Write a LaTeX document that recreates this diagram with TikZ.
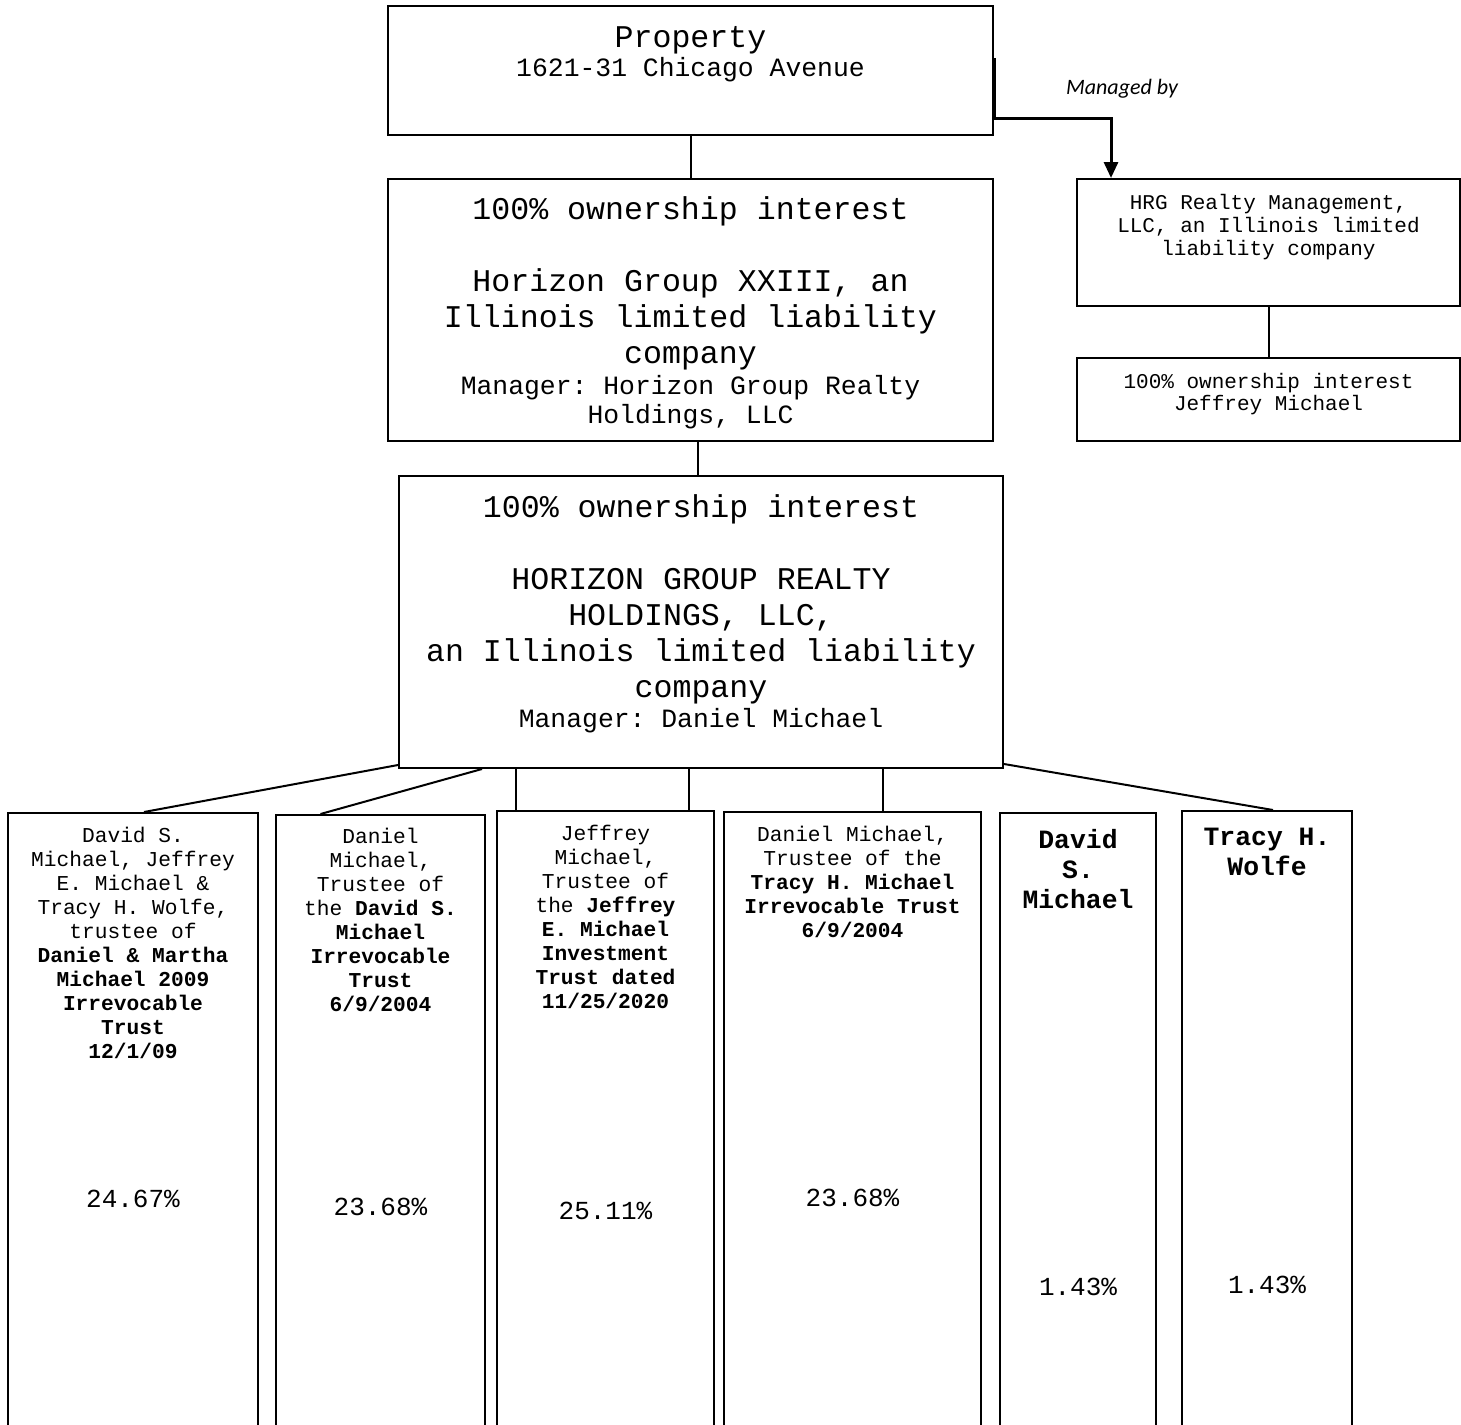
\documentclass[tikz,border=0pt]{standalone}
\usepackage{fontspec}
\setmainfont{Liberation Mono}
\newfontfamily\notefont{Carlito}
\frenchspacing
\usetikzlibrary{positioning, calc, arrows.meta}
\tikzstyle{entity} = [rectangle, draw=black, line width=1pt, inner sep=0pt, anchor=north west]
\tikzstyle{txt} = [align=center, anchor=north, inner sep=0pt]
\tikzstyle{txtBig} = [txt, font=\fontsize{15.8}{18}\selectfont]
\tikzstyle{txtMid} = [txt, font=\fontsize{13.2}{14.5}\selectfont]
\tikzstyle{txtSmall} = [txt, font=\fontsize{10.6}{12}\selectfont]
\tikzstyle{txtName} = [txt, font=\fontsize{13.2}{15}\selectfont\bfseries]
\tikzstyle{pct} = [txt, font=\fontsize{13}{15}\selectfont]
\tikzstyle{link} = [line width=1pt]

\begin{document}
\begin{tikzpicture}[x=0.5pt, y=-0.5pt]
    \useasboundingbox (0,0) rectangle (1461,1424);
    \clip (0,0) rectangle (1461,1424);

    % top part
    \node[entity, minimum width=302.5pt, minimum height=64.5pt] (prop) at (387,5) {};
    \node[txtBig] (propName) at ([yshift=-10.3pt]prop.north) {Property};
    \node[txtMid] (propAddr) at ([yshift=-26pt]prop.north) {1621-31 Chicago Avenue};

    \node[entity, minimum width=302.5pt, minimum height=131pt] (hg23) at (387,178) {};
    \node[txtBig] (hg23Name) at ([yshift=-9.3pt]hg23.north) {100\% ownership interest\\[18pt]Horizon Group XXIII, an\\Illinois limited liability\\company};
    \node[txtMid] (hg23Mgr) at ([yshift=-98.7pt]hg23.north) {Manager: Horizon Group Realty\\Holdings, LLC};

    \node[entity, minimum width=302pt, minimum height=146pt] (hgrh) at (398,475) {};
    \node[txtBig] (hgrhName) at ([yshift=-9.8pt]hgrh.north) {100\% ownership interest\\[18pt]HORIZON GROUP REALTY\\HOLDINGS, LLC,\\an Illinois limited liability\\company};
    \node[txtMid] (hgrhMgr) at ([yshift=-116.7pt]hgrh.north) {Manager: Daniel Michael};

    \node[entity, minimum width=191.5pt, minimum height=63.5pt] (hrg) at (1076,178) {};
    \node[txt, font=\fontsize{10.5}{11.5}\selectfont] (hrgName) at ([yshift=-8pt]hrg.north) {HRG Realty Management,\\LLC, an Illinois limited\\liability company};
    \node[entity, minimum width=191.5pt, minimum height=41.5pt] (jm) at (1076,357) {};
    \node[txt, font=\fontsize{10.5}{11}\selectfont] (jmName) at ([yshift=-8pt]jm.north) {100\% ownership interest\\Jeffrey Michael};

    % members
    \node[entity, minimum width=125pt, minimum height=314pt] (trustDM) at (7,812) {};
    \node[txtSmall] (trustDMName) at ([yshift=-7.5pt]trustDM.north) {David S.\\Michael, Jeffrey\\E. Michael \&\\Tracy H. Wolfe,\\trustee of\\\textbf{Daniel \& Martha}\\\textbf{Michael 2009}\\\textbf{Irrevocable}\\\textbf{Trust}\\\textbf{12/1/09}};
    \node[pct] (trustDMPct) at ([yshift=-188.7pt]trustDM.north) {24.67\%};

    \node[entity, minimum width=104.5pt, minimum height=314pt] (trustDSM) at (275,814) {};
    \node[txtSmall] (trustDSMName) at ([yshift=-7pt]trustDSM.north) {Daniel\\Michael,\\Trustee of\\the \textbf{David S.}\\\textbf{Michael}\\\textbf{Irrevocable}\\\textbf{Trust}\\\textbf{6/9/2004}};
    \node[pct] (trustDSMPct) at ([yshift=-191.7pt]trustDSM.north) {23.68\%};

    \node[entity, minimum width=108.5pt, minimum height=314pt] (trustJEM) at (496,810) {};
    \node[txtSmall] (trustJEMName) at ([yshift=-7.5pt]trustJEM.north) {Jeffrey\\Michael,\\Trustee of\\the \textbf{Jeffrey}\\\textbf{E. Michael}\\\textbf{Investment}\\\textbf{Trust dated}\\\textbf{11/25/2020}};
    \node[pct] (trustJEMPct) at ([yshift=-195.7pt]trustJEM.north) {25.11\%};

    \node[entity, minimum width=128.5pt, minimum height=314pt] (trustTHM) at (723,811) {};
    \node[txtSmall] (trustTHMName) at ([yshift=-7.5pt]trustTHM.north) {Daniel Michael,\\Trustee of the\\\textbf{Tracy H. Michael}\\\textbf{Irrevocable Trust}\\\textbf{6/9/2004}};
    \node[pct] (trustTHMPct) at ([yshift=-188.7pt]trustTHM.north) {23.68\%};

    \node[entity, minimum width=78pt, minimum height=314pt] (dsm) at (999,812) {};
    \node[txtName] (dsmName) at ([yshift=-8.6pt]dsm.north) {David\\S.\\Michael};
    \node[pct] (dsmPct) at ([yshift=-233pt]dsm.north) {1.43\%};

    \node[entity, minimum width=85pt, minimum height=314pt] (thw) at (1181,810) {};
    \node[txtName] (thwName) at ([yshift=-8.6pt]thw.north) {Tracy H.\\Wolfe};
    \node[pct] (thwPct) at ([yshift=-232.7pt]thw.north) {1.43\%};

    % managed by
    \coordinate (mgdTurn) at (1111,118);
    \node[font=\fontsize{11}{13}\notefont\itshape, inner sep=0pt] (mgdLabel) at (1122,89) {Managed by};
    \draw[line width=1.5pt, -{Triangle[length=8pt, width=7pt]}] ([yshift=6.25pt]prop.east) |- (mgdTurn) -- (mgdTurn |- hrg.north);

    % ownership lines
    \draw[link] (prop.south) -- (hg23.north);
    \draw[link] ([xshift=3.75pt]hg23.south) -- ([xshift=3.75pt]hg23.south |- hgrh.north);
    \draw[link] (hrg.south) -- (jm.north);
    \draw[link] ([yshift=2pt]hgrh.south west) -- ([xshift=5.5pt]trustDM.north);
    \draw[link] ([xshift=42pt]hgrh.south west) -- ([xshift=-30pt]trustDSM.north);
    \draw[link] ([xshift=10pt]trustJEM.north west) -- ([xshift=10pt]trustJEM.north west |- hgrh.south);
    \draw[link] ([xshift=96.5pt]trustJEM.north west) -- ([xshift=96.5pt]trustJEM.north west |- hgrh.south);
    \draw[link] ([xshift=15.25pt]trustTHM.north) -- ([xshift=15.25pt]trustTHM.north |- hgrh.south);
    \draw[link] ([yshift=2.5pt]hgrh.south east) -- ([xshift=3pt]thw.north);
\end{tikzpicture}
\end{document}
